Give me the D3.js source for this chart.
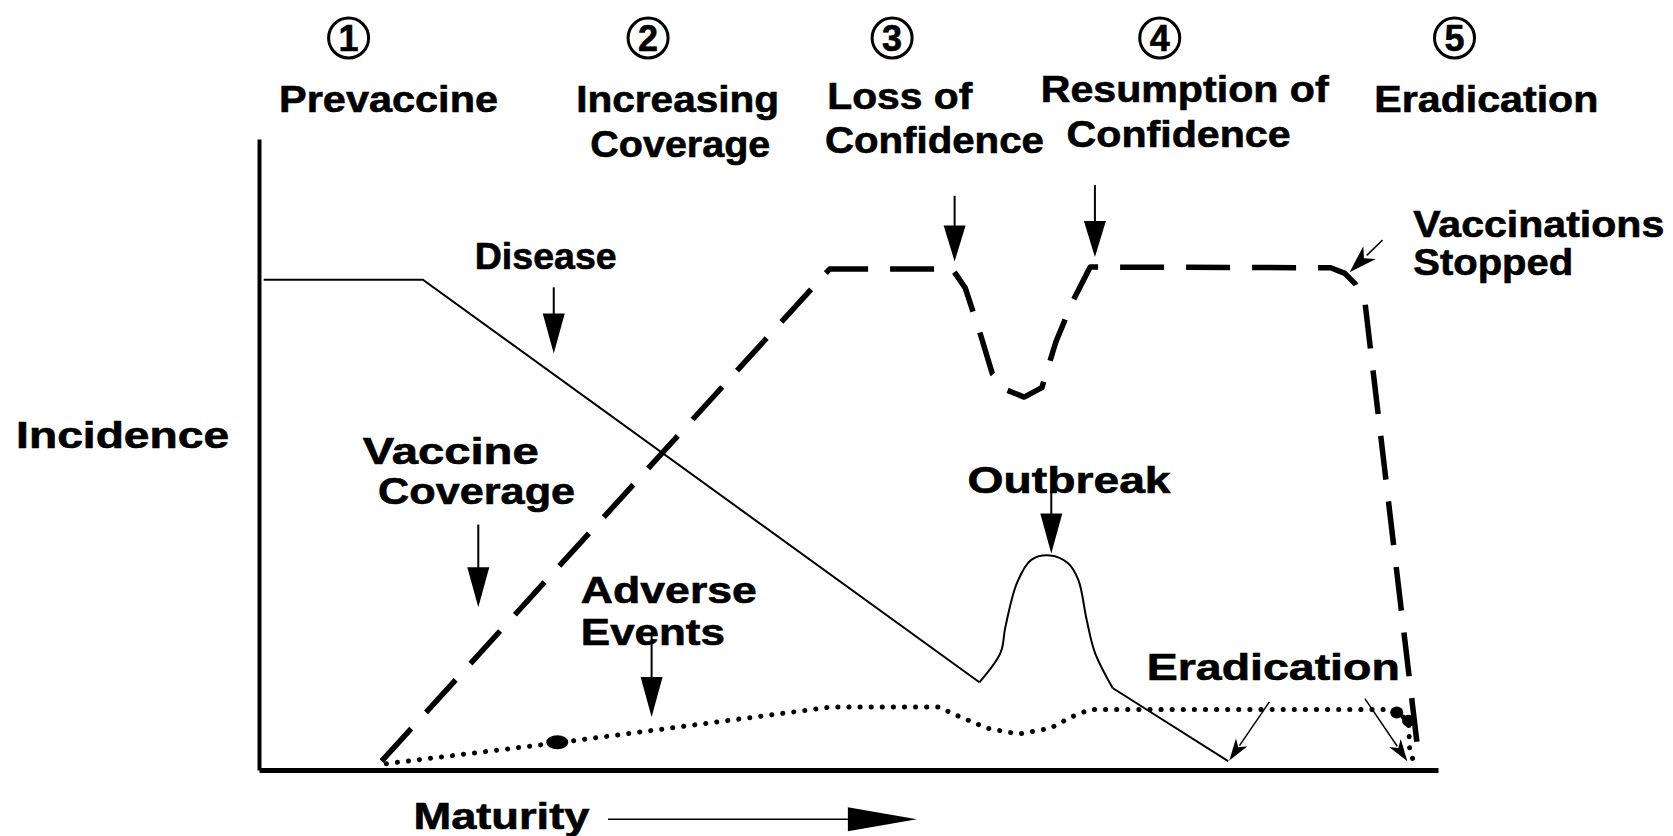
<!DOCTYPE html>
<html>
<head>
<meta charset="utf-8">
<script src="https://cdn.jsdelivr.net/npm/d3@7"></script>
<style>
  body { margin: 0; background: #fff; }
  svg text {
    font-family: "Liberation Sans", Arial, sans-serif;
    font-weight: bold; fill: #000; stroke: #000; stroke-width: 0.6px;
  }
</style>
</head>
<body>
<script>
// curves (x = maturity 0-100, y = incidence 0-100)
const diseaseTrend = [[0.4, 77.7], [13.9, 77.7], [61.1, 13.9]]
const outbreak = [[61.1, 13.9], [62.9, 18.6], [63.3, 22.6], [64.3, 29.7], [65.5, 33.3], [67.1, 34.0],
    [68.6, 32.8], [69.5, 30.1], [70.2, 23.8], [70.9, 18.6], [72.4, 13.0]]
const diseaseTail = [[72.4, 13.0], [82.2, 1.4]]

const vaccineCoverage = [[10.4, 1.4], [48.4, 79.4], [58.8, 79.4], [59.9, 76.4], [61.1, 69.6],
    [62.2, 62.8], [63.3, 60.3], [64.9, 59.1], [66.4, 60.6], [67.6, 67.9], [69.0, 74.2],
    [70.5, 79.7], [90.9, 79.6], [92.1, 78.7], [93.0, 77.0], [93.8, 74.2], [98.4, 1.4]]

const adverseEvents = [[10.8, 1.0], [25.3, 4.3], [48.6, 10.0], [57.6, 10.0], [59.5, 8.4],
    [61.8, 6.6], [64.4, 5.7], [67.1, 6.6], [68.9, 8.4], [70.5, 9.6], [95.7, 9.6],
    [96.5, 9.1], [97.5, 7.8], [97.6, 3.2], [97.9, 1.5]]
const adverseBlobs = [[25.3, 4.4], [96.5, 9.1], [97.5, 7.8]]

const stageNumbers = ["1", "2", "3", "4", "5"]
const stageX = [7.6, 33.0, 53.7, 76.4, 101.4]

// layout
const W = 1673, H = 836
const x = d3.scaleLinear().domain([0, 100]).range([259, 1438])
const y = d3.scaleLinear().domain([0, 100]).range([770, 139])

const labels = [
    { t: "Prevaccine", x: 1.7, y: 104.2, w: 219 },
    { t: "Increasing", x: 26.9, y: 104.2, w: 203 },
    { t: "Coverage", x: 28.1, y: 97.1, w: 180 },
    { t: "Loss of", x: 48.2, y: 104.7, w: 145 },
    { t: "Confidence", x: 48.0, y: 97.8, w: 219 },
    { t: "Resumption of", x: 66.3, y: 105.9, w: 288 },
    { t: "Confidence", x: 68.5, y: 98.8, w: 224 },
    { t: "Eradication", x: 94.6, y: 104.2, w: 224 },
    { t: "Incidence", x: -20.6, y: 51.0, w: 213 },
    { t: "Disease", x: 18.3, y: 79.4, w: 142 },
    { t: "Vaccine", x: 8.8, y: 48.5, w: 176 },
    { t: "Coverage", x: 10.1, y: 42.1, w: 197 },
    { t: "Adverse", x: 27.3, y: 26.5, w: 176 },
    { t: "Events", x: 27.3, y: 19.8, w: 144 },
    { t: "Outbreak", x: 60.1, y: 43.9, w: 203 },
    { t: "Eradication", x: 75.3, y: 14.2, w: 253 },
    { t: "Vaccinations", x: 97.9, y: 84.5, w: 251 },
    { t: "Stopped", x: 97.9, y: 78.4, w: 160 },
    { t: "Maturity", x: 13.1, y: -9.3, w: 176 }
]

const arrows = [
    { from: [25.0, 76.5], to: [25.0, 66.0] },
    { from: [18.6, 38.9], to: [18.6, 25.8] },
    { from: [33.3, 21.8], to: [33.3, 8.4] },
    { from: [59.0, 91.0], to: [59.0, 80.6], head: 36 },
    { from: [70.9, 92.7], to: [70.9, 81.3], head: 36 },
    { from: [67.2, 44.1], to: [67.2, 34.3] },
    { from: [95.3, 84.0], to: [92.5, 78.9], head: 28, hw: 9, notch: 8, sw: 1.5 },
    { from: [85.7, 10.8], to: [82.3, 1.5], head: 22, hw: 7, notch: 6, sw: 1.5 },
    { from: [93.8, 11.3], to: [97.4, 1.4], head: 22, hw: 7, notch: 6, sw: 1.5 },
    { from: [29.6, -7.8], to: [55.8, -7.8], head: 69, hw: 12, sw: 1.5 }
]

const svg = d3.select("body").append("svg")
    .attr("width", W)
    .attr("height", H)

// axes without ticks
svg.append("g")
    .attr("transform", `translate(${x(0)},0)`)
    .call(d3.axisLeft(y).ticks(0).tickSizeOuter(0))
    .select(".domain").attr("stroke-width", 4)

svg.append("g")
    .attr("transform", `translate(0,${y(0)})`)
    .call(d3.axisBottom(x).ticks(0).tickSizeOuter(0))
    .select(".domain").attr("stroke-width", 5)

const line = d3.line().x(d => x(d[0])).y(d => y(d[1]))
const smooth = d3.line().x(d => x(d[0])).y(d => y(d[1])).curve(d3.curveCatmullRom.alpha(0.5))

// disease
svg.append("path").attr("d", line(diseaseTrend))
    .attr("fill", "none").attr("stroke", "#000").attr("stroke-width", 2)
svg.append("path").attr("d", smooth(outbreak))
    .attr("fill", "none").attr("stroke", "#000").attr("stroke-width", 2)
svg.append("path").attr("d", line(diseaseTail))
    .attr("fill", "none").attr("stroke", "#000").attr("stroke-width", 2)

// vaccine coverage
svg.append("path").attr("d", line(vaccineCoverage))
    .attr("fill", "none").attr("stroke", "#000").attr("stroke-width", 5.5)
    .attr("stroke-dasharray", "44 22")
    .attr("stroke-linejoin", "round")

// adverse events
svg.append("path").attr("d", line(adverseEvents))
    .attr("fill", "none").attr("stroke", "#000").attr("stroke-width", 5)
    .attr("stroke-dasharray", "0.1 11")
    .attr("stroke-linecap", "round")

svg.selectAll(".blob")
    .data(adverseBlobs)
    .join("ellipse")
    .attr("cx", d => x(d[0]))
    .attr("cy", d => y(d[1]))
    .attr("rx", (d, i) => i == 0 ? 11 : 6.5)
    .attr("ry", (d, i) => i == 0 ? 7 : 6)

// arrows
arrows.forEach(a => {
    const x1 = x(a.from[0]), y1 = y(a.from[1]), x2 = x(a.to[0]), y2 = y(a.to[1])
    const len = Math.hypot(x2 - x1, y2 - y1)
    const ux = (x2 - x1) / len, uy = (y2 - y1) / len
    const head = a.head || 40, hw = a.hw || 11, notch = a.notch || 0
    const bx = x2 - ux * head, by = y2 - uy * head
    svg.append("line")
        .attr("x1", x1).attr("y1", y1)
        .attr("x2", bx + ux * 4).attr("y2", by + uy * 4)
        .attr("stroke", "#000").attr("stroke-width", a.sw || 2)
    const pts = [[x2, y2], [bx - uy * hw, by + ux * hw], [bx + ux * notch, by + uy * notch], [bx + uy * hw, by - ux * hw]]
    svg.append("path").attr("d", d3.line()(pts) + "Z").attr("fill", "#000")
})

// circled stage numbers
const stages = svg.selectAll(".stage")
    .data(stageNumbers)
    .join("g")
    .attr("transform", (d, i) => `translate(${x(stageX[i])},${y(116)})`)
stages.append("circle").attr("r", 20)
    .attr("fill", "none").attr("stroke", "#000").attr("stroke-width", 3)
stages.append("text").text(d => d)
    .attr("text-anchor", "middle")
    .attr("dy", 13)
    .style("font-size", "36px")

// labels
svg.selectAll(".label")
    .data(labels)
    .join("text")
    .attr("x", d => x(d.x))
    .attr("y", d => y(d.y))
    .attr("textLength", d => d.w)
    .attr("lengthAdjust", "spacingAndGlyphs")
    .style("font-size", "36px")
    .text(d => d.t)
</script>
</body>
</html>
